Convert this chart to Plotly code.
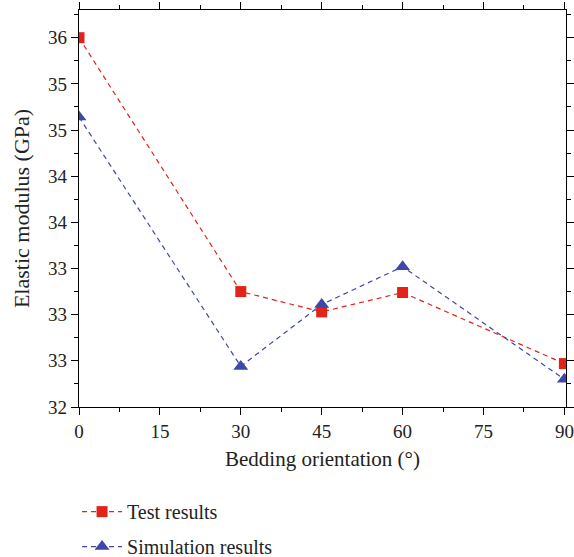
import plotly.graph_objects as go

angles = [0, 30, 45, 60, 90]
test_results = [36.0, 33.25, 33.03, 33.24, 32.47]
simulation_results = [35.14, 32.44, 33.11, 33.52, 32.30]

y_tickvals = [32, 32.5, 33, 33.5, 34, 34.5, 35, 35.5, 36]
y_ticktext = ["32", "33", "33", "33", "34", "34", "35", "35", "36"]
x_tickvals = [0, 15, 30, 45, 60, 75, 90]

RED = "#E2231A"
BLUE = "#3F48AA"
FONT = "Liberation Serif"
TXT = "#222222"

fig = go.Figure()
fig.add_trace(go.Scatter(
    x=angles, y=test_results, mode="lines+markers", name="Test results",
    line=dict(color=RED, width=1.2, dash="5px,4px"),
    marker=dict(symbol="square", size=11, color=RED),
    legendgroup="a", showlegend=True,
))
fig.add_trace(go.Scatter(
    x=angles, y=simulation_results, mode="lines+markers", name="Simulation results",
    line=dict(color=BLUE, width=1.2, dash="5px,4px"),
    marker=dict(symbol="triangle-up", size=13, color=BLUE),
    legendgroup="b", showlegend=True,
))

axis_common = dict(
    showline=True, linecolor="black", linewidth=1.3, mirror="ticks",
    ticks="outside", ticklen=7, tickwidth=1.3, tickcolor="black",
    showgrid=False, zeroline=False, ticklabeloverflow="allow",
    tickfont=dict(family=FONT, size=19, color=TXT),
)

fig.update_xaxes(
    range=[0, 90.3], tickvals=x_tickvals,
    minor=dict(dtick=7.5, tick0=0, ticks="outside", ticklen=4, tickwidth=1.3, tickcolor="black"),
    title=dict(text="Bedding orientation (°)", font=dict(family=FONT, size=21, color=TXT), standoff=10),
    **axis_common,
)
fig.update_yaxes(
    range=[32, 36.3], tickvals=y_tickvals, ticktext=y_ticktext,
    minor=dict(dtick=0.25, tick0=32, ticks="outside", ticklen=4, tickwidth=1.3, tickcolor="black"),
    title=dict(text="Elastic modulus (GPa)", font=dict(family=FONT, size=22, color=TXT), standoff=12),
    **axis_common,
)

fig.update_layout(
    width=574, height=557,
    margin=dict(l=79, r=8, t=10, b=150, autoexpand=False),
    paper_bgcolor="white", plot_bgcolor="white",
    showlegend=True,
    legend=dict(
        x=-0.004, y=-0.2144,
        xanchor="left", yanchor="top", bgcolor="rgba(0,0,0,0)",
        font=dict(family=FONT, size=20, color=TXT),
        tracegroupgap=6, orientation="v", itemwidth=40,
    ),
)

fig.write_html("out.html")
